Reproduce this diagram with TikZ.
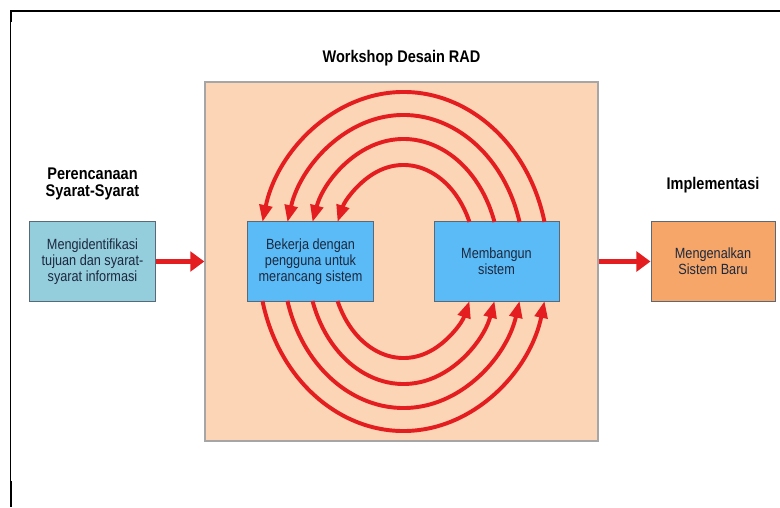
\documentclass[tikz,border=0pt]{standalone}
\usepackage{fontspec}
\setmainfont{Liberation Sans}[FakeStretch=0.86]
\usetikzlibrary{arrows.meta, calc}

\definecolor{peach}{RGB}{251,213,181}
\definecolor{skyblue}{RGB}{90,187,247}
\definecolor{greyblue}{RGB}{148,205,220}
\definecolor{apricot}{RGB}{245,166,104}
\definecolor{arrowred}{RGB}{228,30,32}
\definecolor{boxline}{RGB}{90,105,120}
\definecolor{textnavy}{RGB}{28,40,62}

\tikzset{
    stage/.style={draw=boxline, line width=0.7pt, minimum width=3.125cm, minimum height=1.975cm,
        align=center, text=textnavy, font=\fontsize{10.5}{11.5}\selectfont},
    heading/.style={align=center, font=\bfseries\fontsize{12}{12.5}\selectfont},
    flow/.style={arrowred, line width=3.2pt, -{Triangle[length=10pt, width=14pt]}},
    iterate/.style={arrowred, line width=2.8pt, -{Triangle[length=12pt, width=9pt]}},
}

\begin{document}
\begin{tikzpicture}[x=0.025cm, y=0.025cm]
    \useasboundingbox (0, 0) rectangle (780, 507);

    % frame
    \draw[line width=1.4pt] (10, 496) -- (780, 496);
    \draw[line width=0.8pt] (10.8, 496) -- (10.8, 0);
    \draw[line width=1.6pt] (11, 496) -- (11, 485);
    \draw[line width=1.6pt] (11, 26) -- (11, 0);

    \node[draw=black!35, line width=0.9pt, fill=peach, minimum width=9.825cm, minimum height=8.975cm] (workshop) at (401.5, 245.5) {};
    \node[heading] (judul) at (401.5, 449) {Workshop Desain RAD};

    \node[stage, fill=greyblue] (identifikasi) at (92.5, 245.5) {Mengidentifikasi\\tujuan dan syarat-\\syarat informasi};
    \node[heading] (perencanaan) at (92.5, 323) {Perencanaan\\Syarat-Syarat};

    \node[stage, fill=skyblue] (desain) at (310.5, 245.5) {Bekerja dengan\\pengguna untuk\\merancang sistem};
    \node[stage, fill=skyblue] (bangun) at (496.5, 245.5) {Membangun\\sistem};

    \node[stage, fill=apricot, minimum width=3.1cm] (baru) at (713, 245.5) {Mengenalkan\\Sistem Baru};
    \node[heading] (implementasi) at (713, 322) {Implementasi};

    \draw[flow] (identifikasi.east) -- (workshop.west);
    \draw[flow] (workshop.east) -- (baru.west);

    % nested loops between the two inner boxes
    \coordinate (mid) at ($(desain)!0.5!(bangun)$);
    \foreach \a/\b/\t in {72.3/96.5/24.2, 96.1/122.5/18.8, 120.5/146.5/15.6, 145/169.5/13.5} {
        \draw[iterate] ([shift={(\t:{\a} and {\b})}]mid) arc[start angle=\t, end angle=180-\t, x radius=\a, y radius=\b];
        \draw[iterate] ([shift={(180+\t:{\a} and {\b})}]mid) arc[start angle=180+\t, end angle=360-\t, x radius=\a, y radius=\b];
    }
\end{tikzpicture}
\end{document}
